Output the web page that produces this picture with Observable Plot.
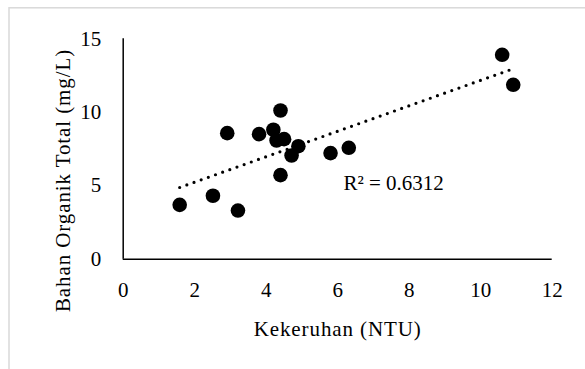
<!DOCTYPE html>
<html>
<head>
<meta charset="utf-8">
<script src="https://cdn.jsdelivr.net/npm/d3@7"></script>
<script src="https://cdn.jsdelivr.net/npm/@observablehq/plot@0.6"></script>
<style>
  html, body { margin: 0; padding: 0; background: #fff; }
  #chart { width: 585px; height: 369px; overflow: hidden; }
</style>
</head>
<body>
<div id="chart"></div>
<script>
// Data
const kekeruhan = [1.58, 2.51, 3.21, 2.91, 3.80, 4.20, 4.40, 4.29, 4.50, 4.90, 4.71, 4.40, 5.80, 6.31, 10.60, 10.91];
const bahanOrganik = [3.70, 4.32, 3.31, 8.58, 8.51, 8.81, 10.12, 8.08, 8.17, 7.69, 7.06, 5.72, 7.22, 7.58, 13.91, 11.87];
const xTicks = [0, 2, 4, 6, 8, 10, 12];
const yTicks = [0, 5, 10, 15];
const xTitle = "Kekeruhan (NTU)";
const yTitle = "Bahan Organik Total (mg/L)";
const r2Label = [{x: 6.16, y: 5.15, text: "R² = 0.6312"}];

const data = kekeruhan.map((x, i) => ({x, y: bahanOrganik[i]}));

const chart = Plot.plot({
  width: 585,
  height: 369,
  marginLeft: 122.7,
  marginRight: 33.3,
  marginTop: 38.3,
  marginBottom: 110.3,
  style: {fontFamily: "'Liberation Serif', serif", fontSize: "21px", color: "#000", background: "#fff"},
  x: {domain: [0, 12]},
  y: {domain: [0, 15]},
  marks: [
    Plot.frame({stroke: "#d9d9d9", strokeWidth: 1.5, insetLeft: -114.2, insetTop: -31, insetRight: -60, insetBottom: -130}),
    Plot.axisX({ticks: xTicks, tickSize: 0, tickPadding: 23, label: null}),
    Plot.axisY({ticks: yTicks, tickSize: 0, tickPadding: 22, label: null}),
    Plot.ruleX([0], {y1: 0, y2: 15, stroke: "#000", strokeWidth: 1.5}),
    Plot.ruleY([0], {x1: 0, x2: 12, stroke: "#000", strokeWidth: 1.5}),
    Plot.linearRegressionY(data, {x: "x", y: "y", ci: 0, stroke: "#000", strokeWidth: 3.2, strokeDasharray: "0,7.6", strokeLinecap: "round"}),
    Plot.dot(data, {x: "x", y: "y", r: 7.3, fill: "#000", stroke: null}),
    Plot.text(r2Label, {x: "x", y: "y", text: "text", textAnchor: "start", lineAnchor: "middle", fill: "#000"}),
    Plot.text([xTitle], {frameAnchor: "bottom", textAnchor: "middle", lineAnchor: "bottom", dy: 77, fill: "#000"}),
    Plot.text([yTitle], {frameAnchor: "left", textAnchor: "middle", rotate: -90, lineAnchor: "middle", dx: -60, dy: 31.5, fill: "#000"})
  ]
});
document.getElementById("chart").appendChild(chart);
// Palatino-like width: widen titles slightly
d3.select(chart).selectAll("text").filter(function() {
  const t = this.textContent;
  return t === xTitle || t === yTitle;
}).style("letter-spacing", "0.9px");
</script>
</body>
</html>
